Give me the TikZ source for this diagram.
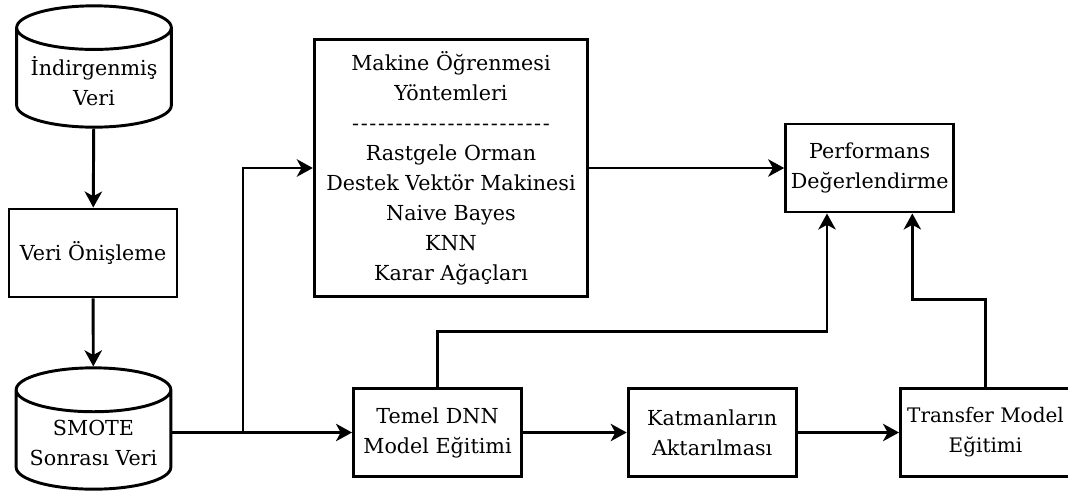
\documentclass[tikz,border=0pt]{standalone}
\usepackage{fontspec}
\setmainfont{DejaVu Serif}
\usetikzlibrary{shapes.geometric, arrows.meta}

\newcommand{\dashline}{\foreach \k in {1,...,23}{\makebox[6.5pt]{-}}}

\begin{document}
\begin{tikzpicture}[x=0.75pt, y=-0.75pt, line width=2.2pt,
  >={Stealth[length=12pt, width=13pt, inset=3.5pt]},
  every node/.style={font=\fontsize{15.5pt}{22.5pt}\selectfont, align=center},
  box/.style = {draw, rectangle, minimum width=126pt, minimum height=66pt, inner sep=2pt},
  db/.style = {draw, cylinder, shape border rotate=90, aspect=0.33,
    minimum width=116pt, minimum height=91pt, inner sep=2pt, anchor=shape center}]
  \useasboundingbox (0,0) rectangle (1068,494);

  \node[db] (vin) at (94,66.5) {İndirgenmiş\\Veri};
  \node[box] (pre) at (93,253) {Veri Önişleme};
  \node[db] (smote) at (93.5,428.5) {SMOTE\\Sonrası Veri};

  \node[box, minimum width=205pt, minimum height=193pt] (ml) at (451,168)
    {Makine Öğrenmesi\\Yöntemleri\\\dashline\\Rastgele Orman\\Destek Vektör Makinesi\\Naive Bayes\\KNN\\Karar Ağaçları};
  \node[box] (perf) [right of=ml, node distance=314pt] {Performans\\Değerlendirme};

  \node[box] (temel) at (437.5,432.5) {Temel DNN\\Model Eğitimi};
  \node[box] (katman) [right of=temel, node distance=206pt] {Katmanların\\Aktarılması};
  \node[box, minimum width=127.5pt, font=\fontsize{15pt}{22.5pt}\selectfont] (transfer) [right of=katman, node distance=205pt] {Transfer Model\\Eğitimi};

  \coordinate (split) at (243,432.5);

  \draw[->] (vin) -- (pre);
  \draw[->] (pre) -- (smote);
  \draw[->] (smote.east |- temel) -- (temel);
  \draw[->] (split) |- (ml);
  \draw[->] (ml) -- (perf);
  \draw[->] (temel) -- (katman);
  \draw[->] (katman) -- (transfer);
  \draw[->] (temel.north) -- ++(0,-56) -| ([xshift=-32pt]perf.south);
  \draw[->] (transfer.north) -- ++(0,-88) -| ([xshift=32pt]perf.south);
\end{tikzpicture}
\end{document}
